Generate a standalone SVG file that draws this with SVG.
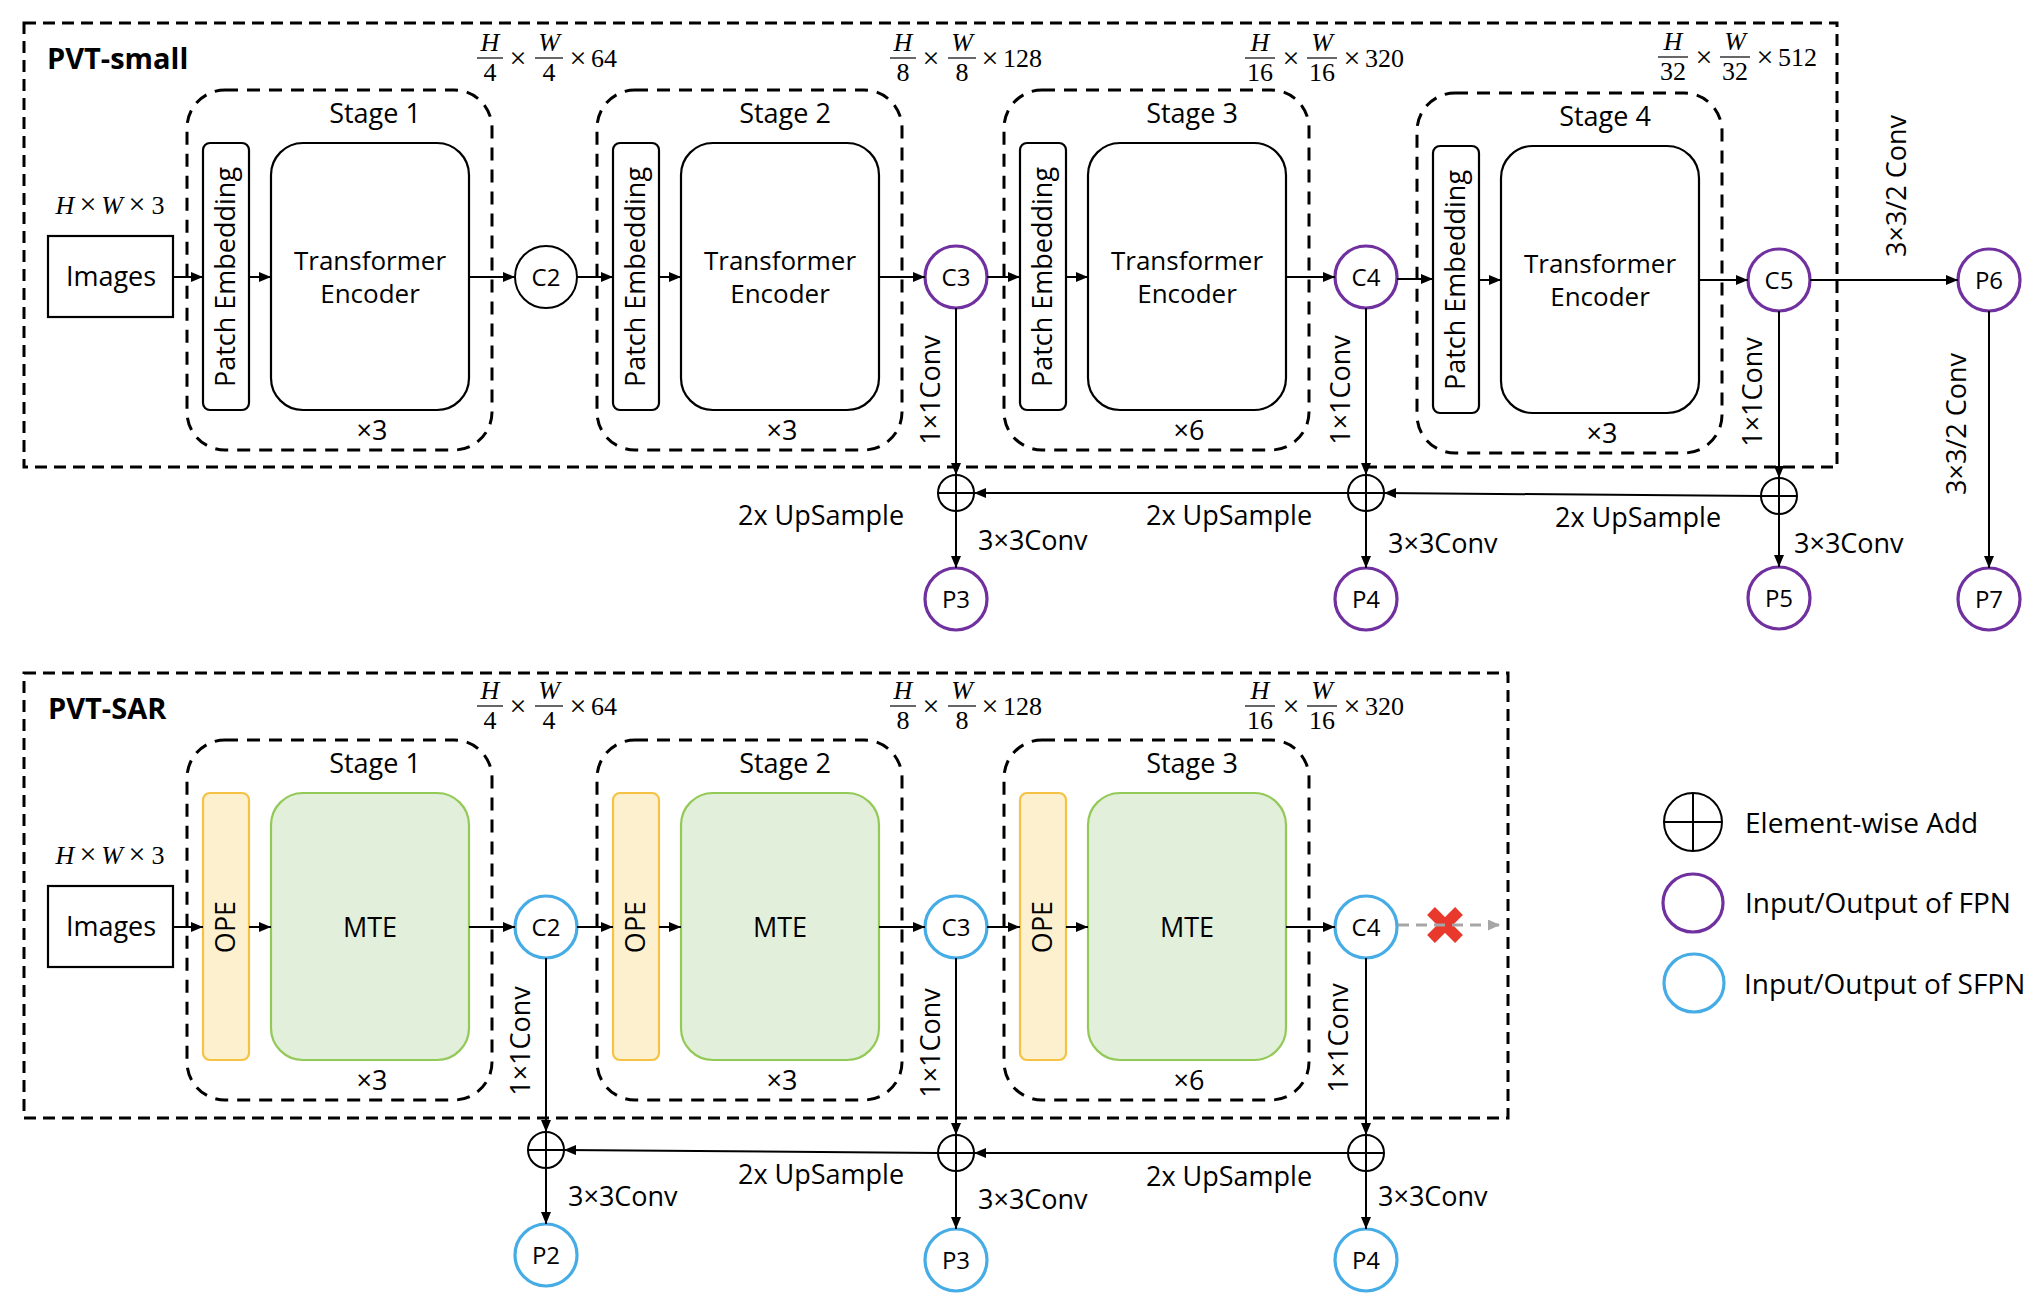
<svg xmlns="http://www.w3.org/2000/svg" width="2044" height="1300" viewBox="0 0 2044 1300">
<defs>
<style>
.outer{fill:none;stroke:#000;stroke-width:3;stroke-dasharray:12 7}
.stage{fill:none;stroke:#000;stroke-width:3;stroke-dasharray:13 9}
.box{fill:#fff;stroke:#000;stroke-width:2.2}
.ope{fill:#FCF0CE;stroke:#F5C243;stroke-width:2.2}
.mte{fill:#E2EFDA;stroke:#93C957;stroke-width:2.2}
.cb{fill:#fff;stroke:#000;stroke-width:2}
.cf{fill:#fff;stroke:#7030A0;stroke-width:3.2}
.cs{fill:#fff;stroke:#45ACE6;stroke-width:3.2}
.plus{fill:none;stroke:#000;stroke-width:2}
.conn{fill:none;stroke:#000;stroke-width:2;marker-end:url(#arr)}
.t{font-family:"Open Sans","Noto Sans",sans-serif;font-size:27px;fill:#000}
.te{font-size:26px}
.tc{font-family:"Open Sans","Noto Sans",sans-serif;font-size:24px;fill:#000;text-anchor:middle}
.mid{text-anchor:middle}
.b{font-weight:bold;font-size:29px}
.lg{font-size:28px}
.m{font-family:"Liberation Serif","DejaVu Serif",serif;font-size:26px;fill:#000}
.mi{font-style:italic}
.x{font-size:30px;text-anchor:middle}
.bar{stroke:#000;stroke-width:1.2}
</style>
<marker id="arr" markerWidth="12" markerHeight="10" refX="12" refY="5" orient="auto" markerUnits="userSpaceOnUse"><path d="M0,0 L12,5 L0,10 z" fill="#000"/></marker>
<marker id="arrg" markerWidth="12" markerHeight="11" refX="12" refY="5.5" orient="auto" markerUnits="userSpaceOnUse"><path d="M0,0 L12,5.5 L0,11 z" fill="#A6A6A6"/></marker>
</defs>

<!-- ================= TOP: PVT-small ================= -->
<g id="pvt-small">
<rect class="outer" x="24" y="23" width="1813" height="444"/>
<text class="t b" x="47" y="69">PVT-small</text>
</g>

<g id="images-top">
<rect class="box" x="48" y="236" width="125" height="81"/>
<text class="t mid" x="111" y="286">Images</text>
<g class="m mid"><text class="mi" x="65" y="214">H</text><text class="x" x="88" y="214">×</text><text class="mi" x="112" y="214">W</text><text class="x" x="137" y="214">×</text><text x="158" y="214">3</text></g>
</g>

<g id="stage1-top" transform="translate(187,0)">
<rect class="stage" x="0" y="90" width="305" height="360" rx="38"/>
<text class="t mid" x="188" y="123">Stage 1</text>
<rect class="box" x="16" y="143" width="46" height="267" rx="7"/>
<text class="t mid" transform="translate(39,277) rotate(-90)" y="9">Patch Embedding</text>
<rect class="box" x="84" y="143" width="198" height="267" rx="32"/>
<text class="t te mid" x="183" y="270">Transformer</text>
<text class="t te mid" x="183" y="303">Encoder</text>
<text class="t mid" x="185" y="440">×3</text>
</g>

<g id="stage2-top" transform="translate(597,0)">
<rect class="stage" x="0" y="90" width="305" height="360" rx="38"/>
<text class="t mid" x="188" y="123">Stage 2</text>
<rect class="box" x="16" y="143" width="46" height="267" rx="7"/>
<text class="t mid" transform="translate(39,277) rotate(-90)" y="9">Patch Embedding</text>
<rect class="box" x="84" y="143" width="198" height="267" rx="32"/>
<text class="t te mid" x="183" y="270">Transformer</text>
<text class="t te mid" x="183" y="303">Encoder</text>
<text class="t mid" x="185" y="440">×3</text>
</g>

<g id="stage3-top" transform="translate(1004,0)">
<rect class="stage" x="0" y="90" width="305" height="360" rx="38"/>
<text class="t mid" x="188" y="123">Stage 3</text>
<rect class="box" x="16" y="143" width="46" height="267" rx="7"/>
<text class="t mid" transform="translate(39,277) rotate(-90)" y="9">Patch Embedding</text>
<rect class="box" x="84" y="143" width="198" height="267" rx="32"/>
<text class="t te mid" x="183" y="270">Transformer</text>
<text class="t te mid" x="183" y="303">Encoder</text>
<text class="t mid" x="185" y="440">×6</text>
</g>

<g id="stage4-top" transform="translate(1417,3)">
<rect class="stage" x="0" y="90" width="305" height="360" rx="38"/>
<text class="t mid" x="188" y="123">Stage 4</text>
<rect class="box" x="16" y="143" width="46" height="267" rx="7"/>
<text class="t mid" transform="translate(39,277) rotate(-90)" y="9">Patch Embedding</text>
<rect class="box" x="84" y="143" width="198" height="267" rx="32"/>
<text class="t te mid" x="183" y="270">Transformer</text>
<text class="t te mid" x="183" y="303">Encoder</text>
<text class="t mid" x="185" y="440">×3</text>
</g>

<!-- dims top -->
<g id="dim1-top" class="m">
<text class="mi mid" x="490" y="51">H</text><line class="bar" x1="477" y1="58" x2="503" y2="58"/><text class="mid" x="490" y="81">4</text>
<text class="x" x="518" y="68">×</text>
<text class="mi mid" x="549" y="51">W</text><line class="bar" x1="535" y1="58" x2="563" y2="58"/><text class="mid" x="549" y="81">4</text>
<text class="x" x="578" y="68">×</text><text x="591" y="67">64</text>
</g>
<g id="dim2-top" class="m">
<text class="mi mid" x="903" y="51">H</text><line class="bar" x1="890" y1="58" x2="916" y2="58"/><text class="mid" x="903" y="81">8</text>
<text class="x" x="931" y="68">×</text>
<text class="mi mid" x="962" y="51">W</text><line class="bar" x1="948" y1="58" x2="976" y2="58"/><text class="mid" x="962" y="81">8</text>
<text class="x" x="990" y="68">×</text><text x="1003" y="67">128</text>
</g>
<g id="dim3-top" class="m">
<text class="mi mid" x="1260" y="51">H</text><line class="bar" x1="1245" y1="58" x2="1275" y2="58"/><text class="mid" x="1260" y="81">16</text>
<text class="x" x="1291" y="68">×</text>
<text class="mi mid" x="1322" y="51">W</text><line class="bar" x1="1307" y1="58" x2="1337" y2="58"/><text class="mid" x="1322" y="81">16</text>
<text class="x" x="1352" y="68">×</text><text x="1365" y="67">320</text>
</g>
<g id="dim4-top" class="m">
<text class="mi mid" x="1673" y="50">H</text><line class="bar" x1="1658" y1="57" x2="1688" y2="57"/><text class="mid" x="1673" y="80">32</text>
<text class="x" x="1704" y="67">×</text>
<text class="mi mid" x="1735" y="50">W</text><line class="bar" x1="1720" y1="57" x2="1750" y2="57"/><text class="mid" x="1735" y="80">32</text>
<text class="x" x="1765" y="67">×</text><text x="1778" y="66">512</text>
</g>

<!-- circles top -->
<g id="c2-top"><circle class="cb" cx="546" cy="277" r="31"/><text class="tc" x="546" y="286">C2</text></g>
<g id="c3-top"><circle class="cf" cx="956" cy="277" r="31"/><text class="tc" x="956" y="286">C3</text></g>
<g id="c4-top"><circle class="cf" cx="1366" cy="277" r="31"/><text class="tc" x="1366" y="286">C4</text></g>
<g id="c5-top"><circle class="cf" cx="1779" cy="280" r="31"/><text class="tc" x="1779" y="289">C5</text></g>
<g id="p6-top"><circle class="cf" cx="1989" cy="280" r="31"/><text class="tc" x="1989" y="289">P6</text></g>
<g id="p7-top"><circle class="cf" cx="1989" cy="599" r="31"/><text class="tc" x="1989" y="608">P7</text></g>
<g id="p3-top"><circle class="cf" cx="956" cy="599" r="31"/><text class="tc" x="956" y="608">P3</text></g>
<g id="p4-top"><circle class="cf" cx="1366" cy="599" r="31"/><text class="tc" x="1366" y="608">P4</text></g>
<g id="p5-top"><circle class="cf" cx="1779" cy="598" r="31"/><text class="tc" x="1779" y="607">P5</text></g>
<g id="add3-top" class="plus"><circle cx="956" cy="493" r="18"/><path d="M938,493 H974 M956,475 V511"/></g>
<g id="add4-top" class="plus"><circle cx="1366" cy="493" r="18"/><path d="M1348,493 H1384 M1366,475 V511"/></g>
<g id="add5-top" class="plus"><circle cx="1779" cy="496" r="18"/><path d="M1761,496 H1797 M1779,478 V514"/></g>

<!-- ================= BOTTOM: PVT-SAR ================= -->
<g id="pvt-sar">
<rect class="outer" x="24" y="673" width="1484" height="445"/>
<text class="t b" x="48" y="719">PVT-SAR</text>
</g>

<g id="images-bot">
<rect class="box" x="48" y="886" width="125" height="81"/>
<text class="t mid" x="111" y="936">Images</text>
<g class="m mid"><text class="mi" x="65" y="864">H</text><text class="x" x="88" y="864">×</text><text class="mi" x="112" y="864">W</text><text class="x" x="137" y="864">×</text><text x="158" y="864">3</text></g>
</g>

<g id="stage1-bot" transform="translate(187,650)">
<rect class="stage" x="0" y="90" width="305" height="360" rx="38"/>
<text class="t mid" x="188" y="123">Stage 1</text>
<rect class="ope" x="16" y="143" width="46" height="267" rx="7"/>
<text class="t mid" transform="translate(39,277) rotate(-90)" y="9">OPE</text>
<rect class="mte" x="84" y="143" width="198" height="267" rx="32"/>
<text class="t mid" x="183" y="287">MTE</text>
<text class="t mid" x="185" y="440">×3</text>
</g>

<g id="stage2-bot" transform="translate(597,650)">
<rect class="stage" x="0" y="90" width="305" height="360" rx="38"/>
<text class="t mid" x="188" y="123">Stage 2</text>
<rect class="ope" x="16" y="143" width="46" height="267" rx="7"/>
<text class="t mid" transform="translate(39,277) rotate(-90)" y="9">OPE</text>
<rect class="mte" x="84" y="143" width="198" height="267" rx="32"/>
<text class="t mid" x="183" y="287">MTE</text>
<text class="t mid" x="185" y="440">×3</text>
</g>

<g id="stage3-bot" transform="translate(1004,650)">
<rect class="stage" x="0" y="90" width="305" height="360" rx="38"/>
<text class="t mid" x="188" y="123">Stage 3</text>
<rect class="ope" x="16" y="143" width="46" height="267" rx="7"/>
<text class="t mid" transform="translate(39,277) rotate(-90)" y="9">OPE</text>
<rect class="mte" x="84" y="143" width="198" height="267" rx="32"/>
<text class="t mid" x="183" y="287">MTE</text>
<text class="t mid" x="185" y="440">×6</text>
</g>

<g id="dim1-bot" class="m" transform="translate(0,648)">
<text class="mi mid" x="490" y="51">H</text><line class="bar" x1="477" y1="58" x2="503" y2="58"/><text class="mid" x="490" y="81">4</text>
<text class="x" x="518" y="68">×</text>
<text class="mi mid" x="549" y="51">W</text><line class="bar" x1="535" y1="58" x2="563" y2="58"/><text class="mid" x="549" y="81">4</text>
<text class="x" x="578" y="68">×</text><text x="591" y="67">64</text>
</g>
<g id="dim2-bot" class="m" transform="translate(0,648)">
<text class="mi mid" x="903" y="51">H</text><line class="bar" x1="890" y1="58" x2="916" y2="58"/><text class="mid" x="903" y="81">8</text>
<text class="x" x="931" y="68">×</text>
<text class="mi mid" x="962" y="51">W</text><line class="bar" x1="948" y1="58" x2="976" y2="58"/><text class="mid" x="962" y="81">8</text>
<text class="x" x="990" y="68">×</text><text x="1003" y="67">128</text>
</g>
<g id="dim3-bot" class="m" transform="translate(0,648)">
<text class="mi mid" x="1260" y="51">H</text><line class="bar" x1="1245" y1="58" x2="1275" y2="58"/><text class="mid" x="1260" y="81">16</text>
<text class="x" x="1291" y="68">×</text>
<text class="mi mid" x="1322" y="51">W</text><line class="bar" x1="1307" y1="58" x2="1337" y2="58"/><text class="mid" x="1322" y="81">16</text>
<text class="x" x="1352" y="68">×</text><text x="1365" y="67">320</text>
</g>

<g id="c2-bot"><circle class="cs" cx="546" cy="927" r="31"/><text class="tc" x="546" y="936">C2</text></g>
<g id="c3-bot"><circle class="cs" cx="956" cy="927" r="31"/><text class="tc" x="956" y="936">C3</text></g>
<g id="c4-bot"><circle class="cs" cx="1366" cy="927" r="31"/><text class="tc" x="1366" y="936">C4</text></g>
<g id="p2-bot"><circle class="cs" cx="546" cy="1255" r="31"/><text class="tc" x="546" y="1264">P2</text></g>
<g id="p3-bot"><circle class="cs" cx="956" cy="1260" r="31"/><text class="tc" x="956" y="1269">P3</text></g>
<g id="p4-bot"><circle class="cs" cx="1366" cy="1260" r="31"/><text class="tc" x="1366" y="1269">P4</text></g>
<g id="add2-bot" class="plus"><circle cx="546" cy="1150" r="18"/><path d="M528,1150 H564 M546,1132 V1168"/></g>
<g id="add3-bot" class="plus"><circle cx="956" cy="1153" r="18"/><path d="M938,1153 H974 M956,1135 V1171"/></g>
<g id="add4-bot" class="plus"><circle cx="1366" cy="1153" r="18"/><path d="M1348,1153 H1384 M1366,1135 V1171"/></g>

<g id="cut">
<path d="M1431,911 L1459,939 M1459,911 L1431,939" stroke="#E8392C" stroke-width="11"/>
</g>

<!-- legend -->
<g id="legend">
<g class="plus"><circle cx="1693" cy="822" r="29"/><path d="M1664,822 H1722 M1693,793 V851"/></g>
<text class="t lg" x="1745" y="833">Element-wise Add</text>
<ellipse class="cf" cx="1693" cy="903" rx="30" ry="29"/>
<text class="t lg" x="1745" y="913">Input/Output of FPN</text>
<ellipse class="cs" cx="1694" cy="983" rx="30" ry="29"/>
<text class="t lg" x="1744" y="994">Input/Output of SFPN</text>
</g>

<!-- ================= CONNECTORS ================= -->
<g id="connectors">
<path class="conn" d="M173,277 H203"/>
<path class="conn" d="M249,277 H271"/>
<path class="conn" d="M469,277 H515"/>
<path class="conn" d="M577,277 H613"/>
<path class="conn" d="M659,277 H681"/>
<path class="conn" d="M879,277 H925"/>
<path class="conn" d="M987,277 H1020"/>
<path class="conn" d="M1066,277 H1088"/>
<path class="conn" d="M1286,277 H1335"/>
<path class="conn" d="M1397,279 H1433"/>
<path class="conn" d="M1479,280 H1501"/>
<path class="conn" d="M1699,280 H1748"/>
<path class="conn" d="M1810,280 H1958"/>
<path class="conn" d="M1989,311 V568"/>
<path class="conn" d="M956,308 V475"/>
<path class="conn" d="M1366,308 V475"/>
<path class="conn" d="M1779,311 V478"/>
<path class="conn" d="M1761,496 L1384,493"/>
<path class="conn" d="M1348,493 H974"/>
<path class="conn" d="M956,511 V568"/>
<path class="conn" d="M1366,511 V568"/>
<path class="conn" d="M1779,514 V567"/>

<path class="conn" d="M173,927 H203"/>
<path class="conn" d="M249,927 H271"/>
<path class="conn" d="M469,927 H515"/>
<path class="conn" d="M577,927 H613"/>
<path class="conn" d="M659,927 H681"/>
<path class="conn" d="M879,927 H925"/>
<path class="conn" d="M987,927 H1020"/>
<path class="conn" d="M1066,927 H1088"/>
<path class="conn" d="M1286,927 H1335"/>
<path d="M1398,925 H1500" fill="none" stroke="#A6A6A6" stroke-width="3" stroke-dasharray="11 7" marker-end="url(#arrg)"/>
<path class="conn" d="M546,958 V1132"/>
<path class="conn" d="M956,958 V1135"/>
<path class="conn" d="M1366,958 V1135"/>
<path class="conn" d="M1348,1153 H974"/>
<path class="conn" d="M938,1153 L564,1150"/>
<path class="conn" d="M546,1168 V1224"/>
<path class="conn" d="M956,1171 V1229"/>
<path class="conn" d="M1366,1171 V1229"/>

<!-- connector labels -->
<text class="t mid" transform="translate(931,390) rotate(-90)" y="9">1×1Conv</text>
<text class="t mid" transform="translate(1341,390) rotate(-90)" y="9">1×1Conv</text>
<text class="t mid" transform="translate(1753,392) rotate(-90)" y="9">1×1Conv</text>
<text class="t" x="738" y="525">2x UpSample</text>
<text class="t" x="1146" y="525">2x UpSample</text>
<text class="t" x="1555" y="527">2x UpSample</text>
<text class="t" x="978" y="550">3×3Conv</text>
<text class="t" x="1388" y="553">3×3Conv</text>
<text class="t" x="1794" y="553">3×3Conv</text>
<text class="t mid" transform="translate(1897,186) rotate(-90)" y="9">3×3/2 Conv</text>
<text class="t mid" transform="translate(1957,424) rotate(-90)" y="9">3×3/2 Conv</text>

<text class="t mid" transform="translate(521,1041) rotate(-90)" y="9">1×1Conv</text>
<text class="t mid" transform="translate(931,1043) rotate(-90)" y="9">1×1Conv</text>
<text class="t mid" transform="translate(1339,1038) rotate(-90)" y="9">1×1Conv</text>
<text class="t" x="738" y="1184">2x UpSample</text>
<text class="t" x="1146" y="1186">2x UpSample</text>
<text class="t" x="568" y="1206">3×3Conv</text>
<text class="t" x="978" y="1209">3×3Conv</text>
<text class="t" x="1378" y="1206">3×3Conv</text>
</g>
</svg>
